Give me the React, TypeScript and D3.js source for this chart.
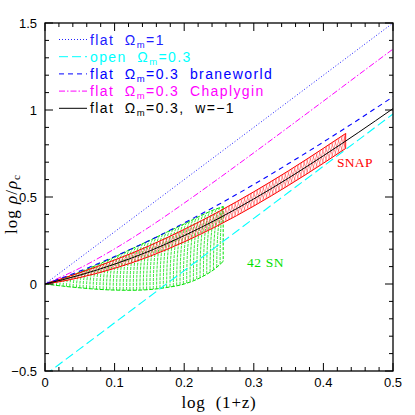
import React from "react";
import * as d3 from "d3";

// ---- data ----
const xs = [0, 0.05, 0.1, 0.15, 0.2, 0.25, 0.3, 0.35, 0.4, 0.45, 0.5];
const flatOm1 = [0, 0.15, 0.3, 0.45, 0.6, 0.75, 0.9, 1.05, 1.2, 1.35, 1.5];
const openOm03 = [-0.523, -0.373, -0.223, -0.073, 0.077, 0.227, 0.377, 0.527, 0.677, 0.827, 0.977];
const braneworld = [0, 0.074, 0.158, 0.25, 0.351, 0.458, 0.572, 0.692, 0.816, 0.944, 1.076];
const chaplygin = [0, 0.091, 0.202, 0.328, 0.465, 0.608, 0.754, 0.902, 1.051, 1.201, 1.35];
const lcdm = [0, 0.051, 0.114, 0.189, 0.278, 0.378, 0.489, 0.609, 0.737, 0.87, 1.008];

const snapX = [0, 0.025, 0.05, 0.1, 0.15, 0.2, 0.25, 0.3, 0.35, 0.4, 0.432];
const snapUpper = [0, 0.032, 0.065, 0.138, 0.22, 0.314, 0.417, 0.53, 0.651, 0.78, 0.865];
const snapLower = [0, 0.016, 0.037, 0.09, 0.158, 0.242, 0.339, 0.448, 0.567, 0.694, 0.779];

const snX = [0, 0.025, 0.05, 0.075, 0.1, 0.125, 0.15, 0.175, 0.2, 0.225, 0.245, 0.256];
const snUpper = [0, 0.03, 0.068, 0.11, 0.155, 0.203, 0.25, 0.298, 0.345, 0.395, 0.43, 0.445];
const snLower = [0, -0.012, -0.022, -0.03, -0.035, -0.036, -0.032, -0.02, 0.0, 0.04, 0.09, 0.13];

const xMajor = [0, 0.1, 0.2, 0.3, 0.4, 0.5];
const xMajorLabels = ["0", "0.1", "0.2", "0.3", "0.4", "0.5"];
const yMajor = [-0.5, 0, 0.5, 1, 1.5];
const yMajorLabels = ["\u22120.5", "0", "0.5", "1", "1.5"];

const legendItems = [
  { pre: "flat  ", post: "=1", color: "#2020ff", dash: "1,2", w: 1 },
  { pre: "open  ", post: "=0.3", color: "#00ffff", dash: "9,4", w: 1 },
  { pre: "flat  ", post: "=0.3  braneworld", color: "#0000ff", dash: "5,4", w: 1 },
  { pre: "flat  ", post: "=0.3  Chaplygin", color: "#ff00ff", dash: "6,2,1.5,2", w: 1 },
  { pre: "flat  ", post: "=0.3,  w=\u22121", color: "#000000", dash: "", w: 1 },
];

export default function App() {
  const W = 415, H = 415;
  const L = 45, R = 393, T = 23, B = 371;
  const x = d3.scaleLinear().domain([0, 0.5]).range([L, R]);
  const y = d3.scaleLinear().domain([-0.5, 1.5]).range([B, T]);

  const line = d3
    .line<number>()
    .x((_, i) => x(xs[i]))
    .y((d) => y(d))
    .curve(d3.curveMonotoneX);

  // SNAP band
  const sUp = d3.scaleLinear().domain(snapX).range(snapUpper).clamp(true);
  const sLo = d3.scaleLinear().domain(snapX).range(snapLower).clamp(true);
  const snapXmax = snapX[snapX.length - 1];
  const snapHatch: string[] = [];
  const dS = 0.007;
  for (let xi = -dS; xi <= snapXmax + 1e-9; xi += 0.0045) {
    const a = Math.max(0, xi);
    const b = Math.min(snapXmax, xi + dS);
    if (b <= a) continue;
    const p1 = d3.path();
    p1.moveTo(x(a), y(sLo(a)));
    p1.lineTo(x(b), y(sUp(b)));
    snapHatch.push(p1.toString());
    const p2 = d3.path();
    p2.moveTo(x(a), y(sUp(a)));
    p2.lineTo(x(b), y(sLo(b)));
    snapHatch.push(p2.toString());
  }
  const bandLine = (vals: number[]) =>
    d3.line<number>().x((_, i) => x(snapX[i])).y((d) => y(d)).curve(d3.curveMonotoneX)(vals) || "";
  const snapLineU = bandLine(snapUpper);
  const snapLineL = bandLine(snapLower);
  const snapEnd = `M${x(snapXmax)},${y(snapUpper[snapUpper.length - 1])}L${x(snapXmax)},${y(snapLower[snapLower.length - 1])}`;

  // 42 SN region
  const gUp = d3.scaleLinear().domain(snX).range(snUpper).clamp(true);
  const gLo = d3.scaleLinear().domain(snX).range(snLower).clamp(true);
  const snXmax = snX[snX.length - 1];
  const snHatch: string[] = [];
  const dG = 0.009;
  for (let xi = 0.002; xi <= snXmax + 1e-9; xi += 0.0048) {
    const xb = xi;
    const xt = Math.min(snXmax, xi + dG);
    const yb = gLo(xb), yt = gUp(xt);
    const p = d3.path();
    p.moveTo(x(xb), y(yb));
    p.quadraticCurveTo(x(xb), y(yb + (yt - yb) * 0.8), x(xt), y(yt));
    snHatch.push(p.toString());
  }
  const regLine = (vals: number[]) =>
    d3.line<number>().x((_, i) => x(snX[i])).y((d) => y(d)).curve(d3.curveMonotoneX)(vals) || "";
  const snLineU = regLine(snUpper);
  const snLineL = regLine(snLower);
  const snEnd = `M${x(snXmax)},${y(snUpper[snUpper.length - 1])}L${x(snXmax)},${y(snLower[snLower.length - 1])}`;

  const xMinor = d3.range(0, 0.5001, 0.02);
  const yMinor = d3.range(-0.5, 1.5001, 0.1);

  const green = "#00e000";
  const sans = "'Liberation Sans', Arial, sans-serif";
  const serif = "'Liberation Serif', 'Times New Roman', serif";

  return (
    <svg width={W} height={H} style={{ position: "absolute", left: 0, top: 0, background: "#fff" }}>
      <defs>
        <clipPath id="plotclip">
          <rect x={L} y={T} width={R - L} height={B - T} />
        </clipPath>
      </defs>
      <g clipPath="url(#plotclip)" fill="none">
        {/* 42 SN region */}
        {snHatch.map((d, i) => (
          <path key={"g" + i} d={d} stroke={green} strokeWidth={0.8} strokeDasharray="3,1" />
        ))}
        <path d={snLineU} stroke={green} strokeWidth={1} strokeDasharray="4,1.5" />
        <path d={snLineL} stroke={green} strokeWidth={1} strokeDasharray="4,1.5" />
        <path d={snEnd} stroke={green} strokeWidth={1} strokeDasharray="3,1.5" />
        {/* SNAP band */}
        {snapHatch.map((d, i) => (
          <path key={"r" + i} d={d} stroke="#ff3030" strokeWidth={0.5} />
        ))}
        <path d={snapLineU} stroke="#ff0000" strokeWidth={1} />
        <path d={snapLineL} stroke="#ff0000" strokeWidth={1} />
        <path d={snapEnd} stroke="#ff0000" strokeWidth={0.8} />
        {/* model curves */}
        <path d={line(openOm03) || ""} stroke="#00ffff" strokeWidth={1.1} strokeDasharray="9,4" />
        <path d={line(flatOm1) || ""} stroke="#2020ff" strokeWidth={1} strokeDasharray="1,2" />
        <path d={line(chaplygin) || ""} stroke="#ff00ff" strokeWidth={1} strokeDasharray="6,2,1.5,2" />
        <path d={line(braneworld) || ""} stroke="#0000ff" strokeWidth={1.1} strokeDasharray="5,4" />
        <path d={line(lcdm) || ""} stroke="#000000" strokeWidth={1} />
      </g>

      {/* frame */}
      <rect x={L} y={T} width={R - L} height={B - T} fill="none" stroke="#000" strokeWidth={1.3} />
      {/* ticks */}
      <g stroke="#000" strokeWidth={1}>
        {xMinor.map((v, i) => {
          const major = Math.abs(Math.round(v * 10) - v * 10) < 1e-6;
          const len = major ? 8 : 4;
          return (
            <g key={"xt" + i}>
              <line x1={x(v)} x2={x(v)} y1={B} y2={B - len} />
              <line x1={x(v)} x2={x(v)} y1={T} y2={T + len} />
            </g>
          );
        })}
        {yMinor.map((v, i) => {
          const major = Math.abs(Math.round(v * 2) - v * 2) < 1e-6;
          const len = major ? 8 : 4;
          return (
            <g key={"yt" + i}>
              <line x1={L} x2={L + len} y1={y(v)} y2={y(v)} />
              <line x1={R} x2={R - len} y1={y(v)} y2={y(v)} />
            </g>
          );
        })}
      </g>
      {/* tick labels */}
      <g fontFamily={sans} fontSize={13} fill="#000">
        {xMajor.map((v, i) => (
          <text key={"xl" + i} x={x(v)} y={387} textAnchor="middle">
            {xMajorLabels[i]}
          </text>
        ))}
        {yMajor.map((v, i) => (
          <text key={"yl" + i} x={37} y={y(v) + 4.5} textAnchor="end">
            {yMajorLabels[i]}
          </text>
        ))}
      </g>
      {/* axis titles */}
      <text
        x={(L + R) / 2}
        y={408}
        textAnchor="middle"
        fontFamily={serif}
        fontSize={17}
        letterSpacing={0.8}
        xmlSpace="preserve"
        style={{ whiteSpace: "pre" }}
      >
        {"log  (1+z)"}
      </text>
      <text
        transform={`translate(17,204) rotate(-90)`}
        textAnchor="middle"
        fontFamily={serif}
        fontSize={17}
        letterSpacing={1}
        xmlSpace="preserve"
        style={{ whiteSpace: "pre" }}
      >
        {"log "}
        <tspan fontStyle="italic">ρ</tspan>/<tspan fontStyle="italic">ρ</tspan>
        <tspan fontSize={11} dy={3}>c</tspan>
      </text>

      {/* legend */}
      {legendItems.map((it, i) => {
        const cy = 39.5 + i * 17.2;
        return (
          <g key={"lg" + i}>
            <line x1={59} x2={87} y1={cy} y2={cy} stroke={it.color} strokeWidth={it.w} strokeDasharray={it.dash || undefined} />
            <text
              x={90}
              y={cy + 5}
              fill={it.color}
              fontFamily={sans}
              fontSize={14}
              letterSpacing={1.4}
              xmlSpace="preserve"
              style={{ whiteSpace: "pre", letterSpacing: "1.4px" }}
            >
              {it.pre + "Ω"}
              <tspan fontSize={9.5} dy={3}>m</tspan>
              <tspan dy={-3}>{it.post}</tspan>
            </text>
          </g>
        );
      })}

      {/* annotations */}
      <text x={337} y={167} fill="#ff0000" fontFamily={serif} fontSize={13.5} letterSpacing={0.3}>
        SNAP
      </text>
      <text x={247} y={267} fill={green} fontFamily={serif} fontSize={13.5} letterSpacing={0.6}>
        42 SN
      </text>
    </svg>
  );
}
